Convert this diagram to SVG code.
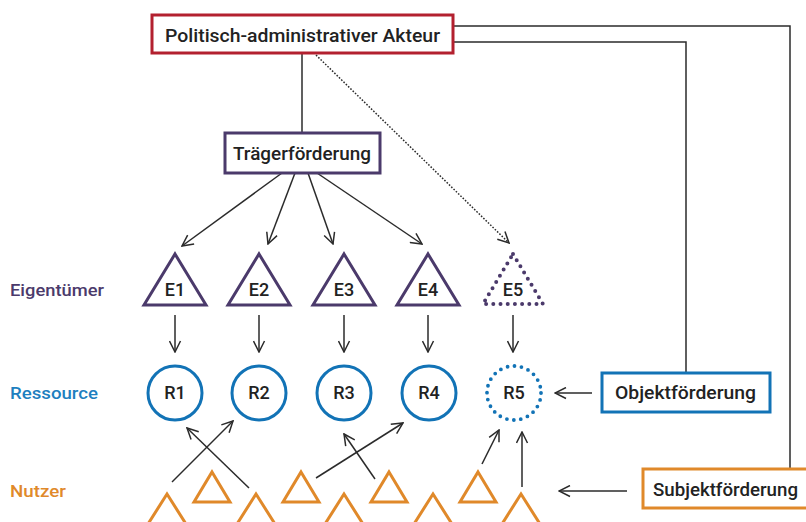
<svg xmlns="http://www.w3.org/2000/svg" width="806" height="522" viewBox="0 0 806 522">
<defs>
<marker id="ah" viewBox="0 0 13 13" refX="12" refY="6.5" markerWidth="13" markerHeight="13" markerUnits="userSpaceOnUse" orient="auto">
<path d="M1,1 L12,6.5 L1,12" fill="none" stroke="#2b2b2b" stroke-width="1.5"/>
</marker>
</defs>
<style>
text{font-family:Roboto,"Liberation Sans",sans-serif;font-weight:500;}
.lbl{font-size:18px;fill:#222;}
.node{font-size:18px;fill:#222;text-anchor:middle;}
.row{font-size:17px;}
.line{fill:none;stroke:#2b2b2b;stroke-width:1.5;}
.arr{fill:none;stroke:#2b2b2b;stroke-width:1.5;marker-end:url(#ah);}
.tri{fill:none;stroke:#4b3a6b;stroke-width:3;stroke-linejoin:miter;}
.circ{fill:none;stroke:#1273b6;stroke-width:3;}
.nut{fill:none;stroke:#e0892a;stroke-width:3;}
</style>
<rect width="806" height="522" fill="#fff"/>

<g id="connectors">
<polyline class="line" points="453,26 790,26 790,469"/>
<polyline class="line" points="453,42 686,42 686,373"/>
<line class="line" x1="302" y1="53" x2="302" y2="133"/>
<line class="arr" x1="316" y1="55" x2="509" y2="243" stroke-dasharray="1.6 1.6" stroke-width="1.7"/>
<line class="arr" x1="282" y1="173" x2="182" y2="246"/>
<line class="arr" x1="295" y1="173" x2="268" y2="244"/>
<line class="arr" x1="308" y1="173" x2="333" y2="244"/>
<line class="arr" x1="317" y1="173" x2="422" y2="244"/>
<line class="arr" x1="175" y1="315" x2="175" y2="352"/>
<line class="arr" x1="259" y1="315" x2="259" y2="352"/>
<line class="arr" x1="344" y1="315" x2="344" y2="352"/>
<line class="arr" x1="428" y1="315" x2="428" y2="352"/>
<line class="arr" x1="513" y1="315" x2="513" y2="352"/>
<line class="arr" x1="592" y1="393" x2="555" y2="393"/>
<line class="arr" x1="627" y1="491" x2="559" y2="491"/>
<line class="arr" x1="172" y1="482" x2="233" y2="421"/>
<line class="arr" x1="249" y1="488" x2="187" y2="428"/>
<line class="arr" x1="316" y1="478" x2="403" y2="423"/>
<line class="arr" x1="375" y1="479" x2="344" y2="434"/>
<line class="arr" x1="482" y1="464" x2="499" y2="430"/>
<line class="arr" x1="522" y1="487" x2="522" y2="432"/>
</g>

<g id="akteur">
<rect x="152" y="15" width="301" height="38" fill="#fff" stroke="#b3202f" stroke-width="3"/>
<text class="lbl" x="165" y="42" textLength="275" lengthAdjust="spacingAndGlyphs">Politisch-administrativer Akteur</text>
</g>
<g id="traegerfoerderung">
<rect x="225" y="133" width="155" height="40" fill="#fff" stroke="#4b3a6b" stroke-width="3"/>
<text class="lbl" x="233" y="160" textLength="138" lengthAdjust="spacingAndGlyphs">Trägerförderung</text>
</g>
<g id="objektfoerderung">
<rect x="602" y="373" width="168" height="39" fill="#fff" stroke="#1273b6" stroke-width="3"/>
<text class="lbl" x="615" y="399" textLength="141" lengthAdjust="spacingAndGlyphs">Objektförderung</text>
</g>
<g id="subjektfoerderung">
<rect x="643" y="469" width="175" height="39" fill="#fff" stroke="#e0892a" stroke-width="3"/>
<text class="lbl" x="653" y="496" textLength="145" lengthAdjust="spacingAndGlyphs">Subjektförderung</text>
</g>

<g id="labels">
<text class="row" x="10" y="296" fill="#4b3a6b" textLength="94" lengthAdjust="spacingAndGlyphs">Eigentümer</text>
<text class="row" x="10" y="399" fill="#1d7fc0" textLength="88" lengthAdjust="spacingAndGlyphs">Ressource</text>
<text class="row" x="10" y="497" fill="#e0892a" textLength="56" lengthAdjust="spacingAndGlyphs">Nutzer</text>
</g>

<g id="E1"><polygon class="tri" points="175,254 206,305 144,305"/><text class="node" x="175" y="296">E1</text></g>
<g id="E2"><polygon class="tri" points="259,254 290,305 228,305"/><text class="node" x="259" y="296">E2</text></g>
<g id="E3"><polygon class="tri" points="344,254 375,305 313,305"/><text class="node" x="344" y="296">E3</text></g>
<g id="E4"><polygon class="tri" points="428,254 459,305 397,305"/><text class="node" x="428" y="296">E4</text></g>
<g id="E5"><polygon points="513,254 543,304 483,304" fill="none" stroke="#4b3a6b" stroke-width="4" stroke-linecap="round" stroke-dasharray="0 7.2"/><text class="node" x="513" y="296">E5</text></g>

<g id="R1"><circle class="circ" cx="175" cy="393" r="27"/><text class="node" x="175" y="399" font-size="17">R1</text></g>
<g id="R2"><circle class="circ" cx="259" cy="393" r="27"/><text class="node" x="259" y="399" font-size="17">R2</text></g>
<g id="R3"><circle class="circ" cx="344" cy="393" r="27"/><text class="node" x="344" y="399" font-size="17">R3</text></g>
<g id="R4"><circle class="circ" cx="429" cy="393" r="27"/><text class="node" x="429" y="399" font-size="17">R4</text></g>
<g id="R5"><circle cx="514" cy="393" r="27" fill="none" stroke="#1273b6" stroke-width="3.8" stroke-linecap="round" stroke-dasharray="0 7.07"/><text class="node" x="514" y="399" font-size="17">R5</text></g>

<g id="nutzer">
<polygon class="nut" points="167,494 186,524 148,524"/>
<polygon class="nut" points="256,494 275,524 237,524"/>
<polygon class="nut" points="344,494 363,524 325,524"/>
<polygon class="nut" points="433,494 452,524 414,524"/>
<polygon class="nut" points="521,494 540,524 502,524"/>
<polygon class="nut" points="212,472 230,502 194,502"/>
<polygon class="nut" points="301,472 319,502 283,502"/>
<polygon class="nut" points="389,472 407,502 371,502"/>
<polygon class="nut" points="478,472 496,502 460,502"/>
</g>
</svg>
